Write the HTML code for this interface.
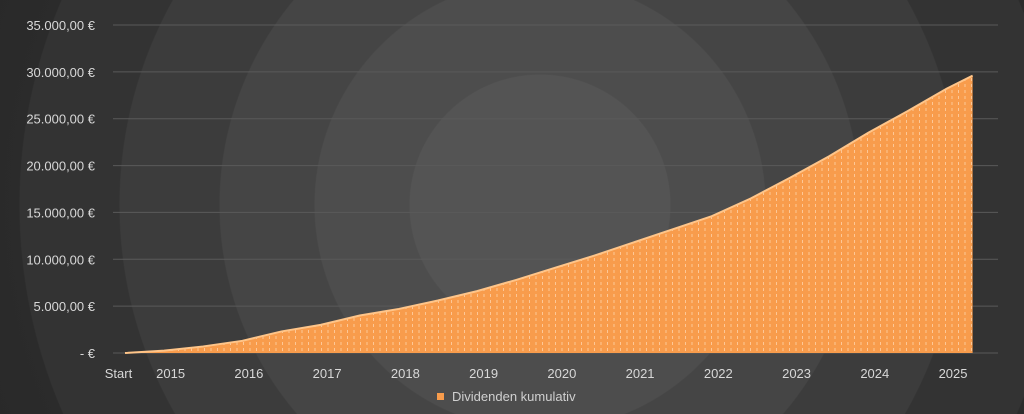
<!DOCTYPE html>
<html><head><meta charset="utf-8"><style>
html,body{margin:0;padding:0}
body{width:1024px;height:414px;overflow:hidden;font-family:"Liberation Sans",sans-serif;
background:radial-gradient(circle at 540px 205px,#545454 0,#545454 130px,#4d4d4d 131px,#4d4d4d 225px,#454545 226px,#454545 320px,#3c3c3c 321px,#3c3c3c 420px,#333 421px,#333 520px,#2b2b2b 521px,#222 800px);}
</style></head><body>
<svg id="chart" width="1024" height="414" style="position:absolute;left:0;top:0">
<defs>
<pattern id="dash" width="6.5" height="6" patternUnits="userSpaceOnUse">
<rect width="6.5" height="6" fill="#f89c4c"/>
<line x1="3" y1="0" x2="3" y2="3" stroke="#ffd2a8" stroke-width="0.8"/>
</pattern>
</defs>
<g id="grid"></g><g id="area"></g><g id="labels"></g>
<g>
<rect x="437" y="393" width="7" height="7" fill="#f89c4c"/>
<text x="452" y="401" fill="#d0d0d0" font-size="13">Dividenden kumulativ</text>
</g>
</svg>
<script>
const months=[0,6,12,18,24,30,36,42,48,54,60,66,72,78,84,90,96,102,108,114,120,126,130];
const values=[0,250,700,1300,2300,3000,4000,4700,5600,6600,7800,9100,10400,11800,13200,14600,16500,18700,21000,23500,25800,28200,29600];
const yTicks=[0,5000,10000,15000,20000,25000,30000,35000];
const yTickLabels=["-   €","5.000,00 €","10.000,00 €","15.000,00 €","20.000,00 €","25.000,00 €","30.000,00 €","35.000,00 €"];
const xLabels=["Start","2015","2016","2017","2018","2019","2020","2021","2022","2023","2024","2025"];
const xLabelMonths=[-1,7,19,31,43,55,67,79,91,103,115,127];
const NS="http://www.w3.org/2000/svg";
const xs=m=>125+m*6.52;
const ys=v=>353-v/35000*328;
const grid=document.getElementById('grid'),lab=document.getElementById('labels'),area=document.getElementById('area');
yTicks.forEach((t,i)=>{
 const l=document.createElementNS(NS,'line');
 
 
 l.setAttribute('x1',113);l.setAttribute('x2',998);l.setAttribute('y1',ys(t));l.setAttribute('y2',ys(t));
 l.setAttribute('stroke','#5a5a5a');l.setAttribute('stroke-width','1');grid.appendChild(l);
 const tx=document.createElementNS(NS,'text');
 
 
 tx.setAttribute('x',95);tx.setAttribute('y',ys(t)+5);tx.setAttribute('text-anchor','end');
 tx.setAttribute('fill','#d8d8d8');tx.setAttribute('font-size','13');tx.textContent=yTickLabels[i];lab.appendChild(tx);
});
xLabels.forEach((s,i)=>{
 const tx=document.createElementNS(NS,'text');
 
 
 tx.setAttribute('x',xs(xLabelMonths[i]));tx.setAttribute('y',378);tx.setAttribute('text-anchor','middle');
 tx.setAttribute('fill','#d8d8d8');tx.setAttribute('font-size','13');tx.textContent=s;lab.appendChild(tx);
});
let d='M'+xs(months[0])+','+ys(0);
months.forEach((m,i)=>{d+=' L'+xs(m)+','+ys(values[i]);});
d+=' L'+xs(months[months.length-1])+','+ys(0)+' Z';
const areaPath=document.createElementNS(NS,'path');


areaPath.setAttribute('d',d);areaPath.setAttribute('fill','url(#dash)');area.appendChild(areaPath);
let d2='M'+xs(months[0])+','+ys(values[0]);
months.forEach((m,i)=>{d2+=' L'+xs(m)+','+ys(values[i]);});
const topEdge=document.createElementNS(NS,'path');


topEdge.setAttribute('d',d2);topEdge.setAttribute('fill','none');topEdge.setAttribute('stroke','#ffc589');topEdge.setAttribute('stroke-width','2');area.appendChild(topEdge);
</script>
</body></html>
